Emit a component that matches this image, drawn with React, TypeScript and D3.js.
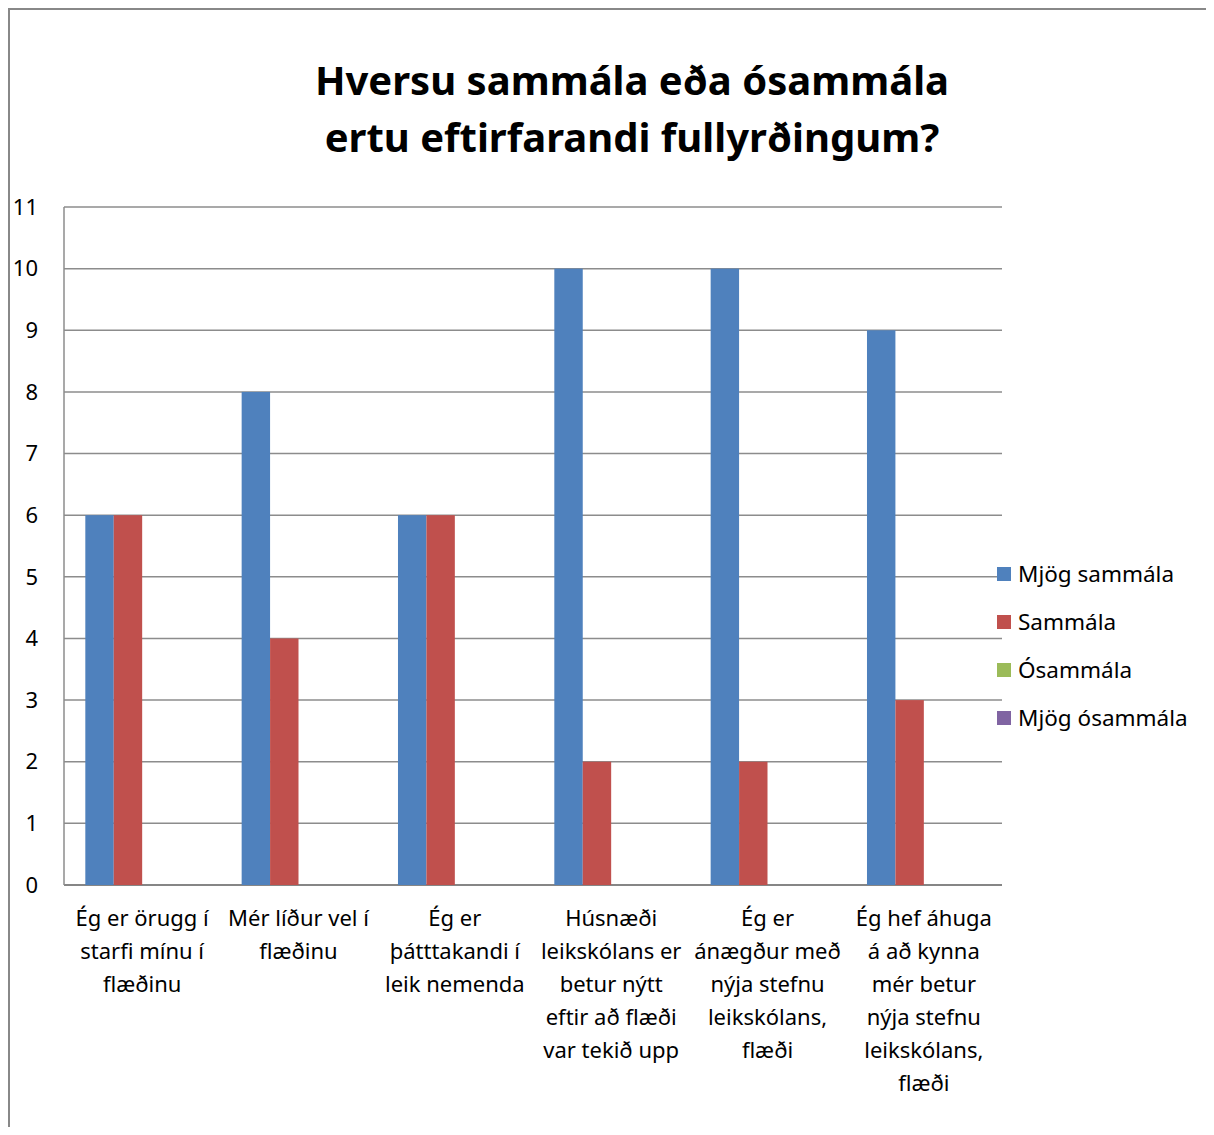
import React from "react";
import * as d3 from "d3";

const categories = [
  "Ég er örugg í\nstarfi mínu í\nflæðinu",
  "Mér líður vel í\nflæðinu",
  "Ég er\nþátttakandi í\nleik nemenda",
  "Húsnæði\nleikskólans er\nbetur nýtt\neftir að flæði\nvar tekið upp",
  "Ég er\nánægður með\nnýja stefnu\nleikskólans,\nflæði",
  "Ég hef áhuga\ná að kynna\nmér betur\nnýja stefnu\nleikskólans,\nflæði",
];
const seriesNames = ["Mjög sammála", "Sammála", "Ósammála", "Mjög ósammála"];
const mjogSammala = [6, 8, 6, 10, 10, 9];
const sammala = [6, 4, 6, 2, 2, 3];
const osammala = [0, 0, 0, 0, 0, 0];
const mjogOsammala = [0, 0, 0, 0, 0, 0];
const colors = ["#4F81BD", "#C0504D", "#9BBB59", "#8064A2"];
const yTicks = [0, 1, 2, 3, 4, 5, 6, 7, 8, 9, 10, 11];

const W = 1214;
const H = 1135;
const margin = { top: 207, right: 212, bottom: 250, left: 64 };
const font = "'Noto Sans', 'Open Sans', sans-serif";

const App = () => {
  const series = [mjogSammala, sammala, osammala, mjogOsammala];
  const x = d3
    .scaleBand()
    .domain(categories.map((_, i) => String(i)))
    .range([margin.left, W - margin.right]);
  // Excel style: gap width 150% => each group has 4 bars + 1.5 bar gap
  const barW = x.bandwidth() / 5.5;
  const x1 = d3
    .scaleBand()
    .domain(seriesNames)
    .range([0.75 * barW, x.bandwidth() - 0.75 * barW]);
  const y = d3
    .scaleLinear()
    .domain([0, 11])
    .range([H - margin.bottom, margin.top]);

  return (
    <div style={{ margin: -8 }}>
      <svg width={W} height={H} style={{ display: "block", fontFamily: font }}>
        <rect width={W} height={H} fill="#fff" />
        <path d={`M9,${H} V9 H${W}`} fill="none" stroke="#888" strokeWidth={2} />

        <text textAnchor="middle" fontWeight="bold" fontSize={40} fill="#000">
          <tspan x={632} y={95}>Hversu sammála eða ósammála</tspan>
          <tspan x={632} y={152}>ertu eftirfarandi fullyrðingum?</tspan>
        </text>

        {yTicks.map((t) => (
          <g key={t}>
            <line
              x1={margin.left}
              x2={W - margin.right}
              y1={y(t)}
              y2={y(t)}
              stroke={t === 0 ? "#868686" : "#8c8c8c"}
              strokeWidth={t === 0 ? 2 : 1.5}
            />
            <text x={38} y={y(t)} dy="0.35em" textAnchor="end" fontSize={22} fill="#000">
              {t}
            </text>
          </g>
        ))}
        <line
          x1={margin.left}
          x2={margin.left}
          y1={y(11)}
          y2={y(0)}
          stroke="#8c8c8c"
          strokeWidth={1.5}
        />

        {categories.map((c, i) =>
          series.map((s, k) =>
            s[i] > 0 ? (
              <rect
                key={`${i}-${k}`}
                x={(x(String(i)) as number) + (x1(seriesNames[k]) as number)}
                y={y(s[i])}
                width={x1.bandwidth()}
                height={y(0) - y(s[i])}
                fill={colors[k]}
              />
            ) : null
          )
        )}

        {categories.map((c, i) => (
          <text key={c} textAnchor="middle" fontSize={22} fill="#000">
            {c.split("\n").map((line, j) => (
              <tspan key={j} x={(x(String(i)) as number) + x.bandwidth() / 2} y={926 + j * 33}>
                {line}
              </tspan>
            ))}
          </text>
        ))}

        {seriesNames.map((n, k) => (
          <g key={n} transform={`translate(997, ${574 + k * 48})`}>
            <rect x={0} y={-7} width={14} height={14} fill={colors[k]} />
            <text x={21} dy="0.35em" fontSize={22.5} fill="#000">
              {n}
            </text>
          </g>
        ))}
      </svg>
    </div>
  );
};

export default App;
